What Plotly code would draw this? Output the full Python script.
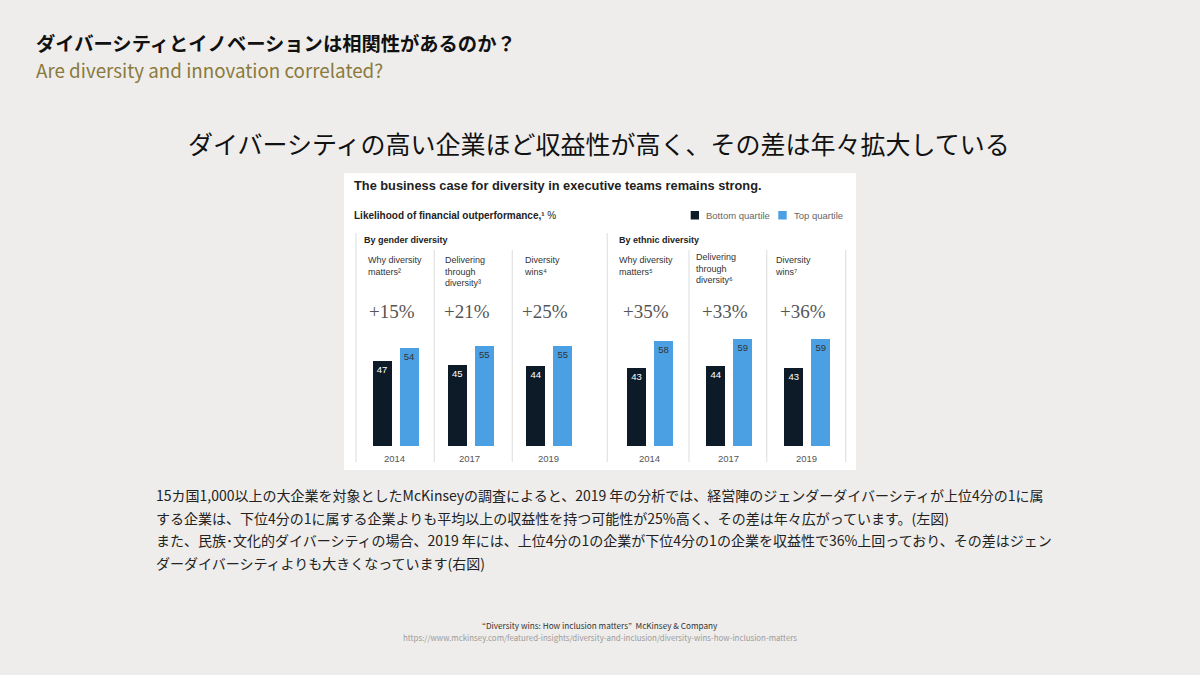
import plotly.graph_objects as go

W, H = 1200, 675

# ---------------- data ----------------
years = ["2014", "2017", "2019", "2014", "2017", "2019"]
bottom_quartile = [47, 45, 44, 43, 44, 43]
top_quartile = [54, 55, 55, 58, 59, 59]
uplift_labels = ["+15%", "+21%", "+25%", "+35%", "+33%", "+36%"]
study_labels = [
    "Why diversity<br>matters²",
    "Delivering<br>through<br>diversity³",
    "Diversity<br>wins⁴",
    "Why diversity<br>matters⁵",
    "Delivering<br>through<br>diversity⁶",
    "Diversity<br>wins⁷",
]
group_labels = ["By gender diversity", "By ethnic diversity"]
series_names = ["Bottom quartile", "Top quartile"]

# ---------------- styling / layout ----------------
DARK = "#0D1A28"
BLUE = "#4BA0E4"
BG = "#EEEDEB"
JP = "Noto Sans CJK JP"
SANS = "Liberation Sans, DejaVu Sans"
SERIF = "Liberation Serif"


def px(x):
    return x / W


def py(y):
    return 1 - y / H


panel_centers = [395.5, 470.8, 549.2, 650.0, 729.3, 807.2]
unit_px = 26.5
half_w = 39.0
base_y, top_y = 446.0, 301.0
px_per_val = 1.81
study_label_y = [253, 253, 253, 253, 250, 253]
study_label_x = [366, 443.3, 521.7, 617.3, 694.3, 773]

fig = go.Figure()
layout_axes = {}
for i in range(6):
    xa = "x" if i == 0 else f"x{i+1}"
    ya = "y" if i == 0 else f"y{i+1}"
    fig.add_trace(go.Bar(
        x=[0, 1],
        y=[bottom_quartile[i], top_quartile[i]],
        width=0.7,
        marker=dict(color=[DARK, BLUE], line=dict(width=0)),
        text=[str(bottom_quartile[i]), str(top_quartile[i])],
        textposition="inside",
        insidetextanchor="end",
        textfont=dict(family=SANS, size=9.5, color=["#FFFFFF", "#333333"]),
        hovertext=[series_names[0], series_names[1]],
        showlegend=False,
        xaxis=xa, yaxis=ya,
    ))
    c = panel_centers[i]
    hr = half_w / unit_px
    layout_axes["xaxis" if i == 0 else f"xaxis{i+1}"] = dict(
        domain=[px(c - half_w), px(c + half_w)],
        range=[0.5 - hr, 0.5 + hr],
        visible=False, fixedrange=True,
        anchor=ya,
    )
    layout_axes["yaxis" if i == 0 else f"yaxis{i+1}"] = dict(
        domain=[py(base_y), py(top_y)],
        range=[0, (base_y - top_y) / px_per_val],
        visible=False, fixedrange=True,
        anchor=xa,
    )

fig.update_layout(**layout_axes)

shapes = []
annotations = []

# white chart panel
shapes.append(dict(type="rect", xref="paper", yref="paper",
                   x0=px(344), x1=px(856), y0=py(470), y1=py(173),
                   fillcolor="#FFFFFF", line=dict(width=0), layer="below"))

# separators
sep_x = [356, 434.3, 512.3, 607.3, 689, 766.7, 845.7]
sep_top = [233, 250, 250, 233, 250, 250, 250]
for x, t in zip(sep_x, sep_top):
    shapes.append(dict(type="line", xref="paper", yref="paper",
                       x0=px(x), x1=px(x), y0=py(462), y1=py(t),
                       line=dict(color="#E2E2E2", width=1.2)))

# legend squares
shapes.append(dict(type="rect", xref="paper", yref="paper",
                   x0=px(690.7), x1=px(699), y0=py(219.5), y1=py(211),
                   fillcolor=DARK, line=dict(width=0)))
shapes.append(dict(type="rect", xref="paper", yref="paper",
                   x0=px(778.3), x1=px(786.7), y0=py(219.5), y1=py(211),
                   fillcolor=BLUE, line=dict(width=0)))


def ann(text, x, y, size, color="#222", family=SANS, xanchor="left",
        yanchor="middle", align="left"):
    annotations.append(dict(text=text, x=px(x), y=py(y), xref="paper",
                            yref="paper", showarrow=False, xanchor=xanchor,
                            yanchor=yanchor, align=align,
                            font=dict(size=size, color=color, family=family)))


ann(series_names[0], 704, 215.5, 9.5, "#666")
ann(series_names[1], 791.7, 215.5, 9.5, "#666")

# slide titles
ann("<b>ダイバーシティとイノベーションは相関性があるのか？</b>", 34, 42.5, 19.3, "#111", JP)
ann("Are diversity and innovation correlated?", 34, 69.5, 18.8, "#8A7A3C", JP)
ann("ダイバーシティの高い企業ほど収益性が高く、その差は年々拡大している", 599, 143, 25,
    "#111", JP, xanchor="center")

# chart titles
ann("<b>The business case for diversity in executive teams remains strong.</b>",
    352, 185, 12.8, "#222")
ann("<b>Likelihood of financial outperformance,¹</b> %", 352, 215, 10, "#222")
ann("<b>" + group_labels[0] + "</b>", 361.5, 240, 9, "#222")
ann("<b>" + group_labels[1] + "</b>", 617.5, 240, 9, "#222")

for i in range(6):
    ann(study_labels[i], study_label_x[i], study_label_y[i], 9, "#333",
        yanchor="top")
    ann(uplift_labels[i], panel_centers[i] - 4, 311.5, 19, "#555", SERIF,
        xanchor="center")
    ann(years[i], panel_centers[i] - 1, 458, 9.5, "#555", xanchor="center")

# body text
body_lines = [
    "15カ国1,000以上の大企業を対象としたMcKinseyの調査によると、2019 年の分析では、経営陣のジェンダーダイバーシティが上位4分の1に属",
    "する企業は、下位4分の1に属する企業よりも平均以上の収益性を持つ可能性が25%高く、その差は年々広がっています。(左図)",
    "また、民族･文化的ダイバーシティの場合、2019 年には、上位4分の1の企業が下位4分の1の企業を収益性で36%上回っており、その差はジェン",
    "ダーダイバーシティよりも大きくなっています(右図)",
]
for k, line in enumerate(body_lines):
    ann(line, 154, 495 + k * 22.7, 14, "#222", JP)

# footer
ann("“Diversity wins: How inclusion matters”  McKinsey & Company", 600, 625, 8.2,
    "#333", JP, xanchor="center")
ann("https://www.mckinsey.com/featured-insights/diversity-and-inclusion/diversity-wins-how-inclusion-matters",
    600, 637, 7.9, "#9A9A9A", JP, xanchor="center")

fig.update_layout(
    width=W, height=H,
    margin=dict(l=0, r=0, t=0, b=0),
    paper_bgcolor=BG,
    plot_bgcolor="rgba(0,0,0,0)",
    shapes=shapes,
    annotations=annotations,
    bargap=0,
    showlegend=False,
)

fig.write_html(
    "out.html",
    config={"displayModeBar": False},
    post_script="document.body.style.margin='0';document.body.style.overflow='hidden';",
)
